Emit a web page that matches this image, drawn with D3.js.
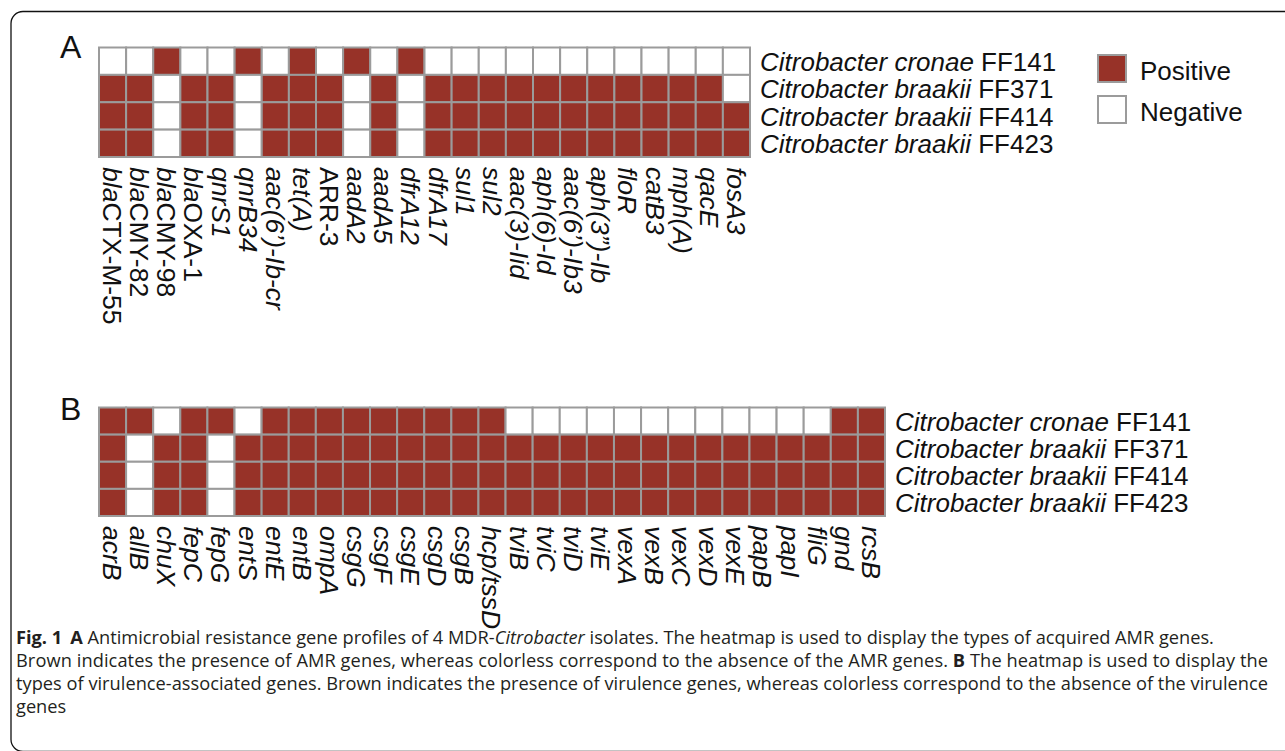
<!DOCTYPE html>
<html>
<head>
<meta charset="utf-8">
<script src="https://cdn.jsdelivr.net/npm/d3@7"></script>
<style>
  body { margin: 0; background: #fff; }
  svg { display: block; }
  .lab { font-family: "Liberation Sans", Arial, sans-serif; font-size: 26px; fill: #111; }
  .col { font-size: 26.5px; }
  .cap { font-family: "Open Sans", sans-serif; fill: #231f20; }
</style>
</head>
<body>
<svg></svg>
<script>
// isolates (rows)
var species = ["Citrobacter cronae", "Citrobacter braakii", "Citrobacter braakii", "Citrobacter braakii"];
var strains = ["FF141", "FF371", "FF414", "FF423"];

// panel A: acquired AMR genes
var amrGenes = ["blaCTX-M-55", "blaCMY-82", "blaCMY-98", "blaOXA-1", "qnrS1", "qnrB34", "aac(6\u2019)-Ib-cr", "tet(A)",
  "ARR-3", "aadA2", "aadA5", "dfrA12", "dfrA17", "sul1", "sul2", "aac(3)-Iid", "aph(6)-Id", "aac(6\u2019)-Ib3",
  "aph(3\u201D)-Ib", "floR", "catB3", "mph(A)", "qacE", "fosA3"];
var amrFF141 = [0,0,1,0,0,1,0,1,0,1,0,1,0,0,0,0,0,0,0,0,0,0,0,0];
var amrFF371 = [1,1,0,1,1,0,1,1,1,0,1,0,1,1,1,1,1,1,1,1,1,1,1,0];
var amrFF414 = [1,1,0,1,1,0,1,1,1,0,1,0,1,1,1,1,1,1,1,1,1,1,1,1];
var amrFF423 = [1,1,0,1,1,0,1,1,1,0,1,0,1,1,1,1,1,1,1,1,1,1,1,1];

// panel B: virulence-associated genes
var virGenes = ["acrB", "allB", "chuX", "fepC", "fepG", "entS", "entE", "entB", "ompA", "csgG", "csgF", "csgE",
  "csgD", "csgB", "hcp/tssD", "tviB", "tviC", "tviD", "tviE", "vexA", "vexB", "vexC", "vexD", "vexE",
  "papB", "papI", "fliG", "gnd", "rcsB"];
var virFF141 = [1,1,0,1,1,0,1,1,1,1,1,1,1,1,1,0,0,0,0,0,0,0,0,0,0,0,0,1,1];
var virFF371 = [1,0,1,1,0,1,1,1,1,1,1,1,1,1,1,1,1,1,1,1,1,1,1,1,1,1,1,1,1];
var virFF414 = [1,0,1,1,0,1,1,1,1,1,1,1,1,1,1,1,1,1,1,1,1,1,1,1,1,1,1,1,1];
var virFF423 = [1,0,1,1,0,1,1,1,1,1,1,1,1,1,1,1,1,1,1,1,1,1,1,1,1,1,1,1,1];

var legendItems = ["Positive", "Negative"];

var RED = "#973228", GRID = "#9b9b9b";

var svg = d3.select('svg').attr('width', 1285).attr('height', 751);

// rounded frame
svg.append('rect')
  .attr('x', 11).attr('y', 11.5).attr('width', 1300).attr('height', 740)
  .attr('rx', 12).attr('fill', 'none').attr('stroke', '#111').attr('stroke-width', 1.3);

function heatmap(genes, rows, x0, x1, y0, y1, letter, ly) {
  var x = d3.scaleBand().domain(genes).range([x0, x1]);
  var y = d3.scaleBand().domain(strains).range([y0, y1]);
  var cells = [];
  rows.forEach(function(r, i) {
    r.forEach(function(v, j) { cells.push({ gene: genes[j], strain: strains[i], v: v }); });
  });

  var g = svg.append('g');
  g.selectAll('rect').data(cells).enter().append('rect')
    .attr('x', function(d) { return x(d.gene); })
    .attr('y', function(d) { return y(d.strain); })
    .attr('width', x.bandwidth()).attr('height', y.bandwidth())
    .attr('fill', function(d) { return d.v ? RED : '#fff'; })
    .attr('stroke', GRID).attr('stroke-width', 2);

  // row labels
  var rl = g.selectAll('text.row').data(strains).enter().append('text')
    .attr('class', 'lab row')
    .attr('x', x1 + 10)
    .attr('y', function(d) { return y(d) + y.bandwidth() / 2; })
    .attr('dy', '0.37em');
  rl.append('tspan').style('font-style', 'italic').text(function(d, i) { return species[i] + ' '; });
  rl.append('tspan').text(function(d) { return d; });

  // column labels, reading downwards
  var cl = g.selectAll('text.col').data(genes).enter().append('text')
    .attr('class', 'lab col')
    .attr('transform', function(d) { return 'translate(' + (x(d) + x.bandwidth() / 2) + ',' + (y1 + 10) + ') rotate(90)'; })
    .attr('dy', '0.36em');
  cl.each(function(d) {
    var t = d3.select(this);
    if (d.indexOf('bla') === 0) {
      t.append('tspan').style('font-style', 'italic').text('bla');
      t.append('tspan').text(d.slice(3));
    } else if (d === 'ARR-3') {
      t.append('tspan').text(d);
    } else {
      t.append('tspan').style('font-style', 'italic').text(d);
    }
  });

  svg.append('text').attr('class', 'lab').style('font-size', '32px')
    .attr('x', 60).attr('y', ly).text(letter);
}

heatmap(amrGenes, [amrFF141, amrFF371, amrFF414, amrFF423], 99, 750, 47.5, 157, 'A', 57.5);
heatmap(virGenes, [virFF141, virFF371, virFF414, virFF423], 99, 885, 407.5, 516, 'B', 419.5);

// legend
var lg = svg.append('g').selectAll('g').data(legendItems).enter().append('g')
  .attr('transform', function(d, i) { return 'translate(1098,' + (55 + i * 41) + ')'; });
lg.append('rect').attr('width', 28).attr('height', 27)
  .attr('fill', function(d, i) { return i === 0 ? RED : '#fff'; })
  .attr('stroke', GRID).attr('stroke-width', 2);
lg.append('text').attr('class', 'lab').attr('x', 42).attr('y', 25).text(function(d) { return d; });

// caption
var capLines = [
  [["Fig. 1", "b"], ["A", "b", 8], [" Antimicrobial resistance gene profiles of 4 MDR-", ""], ["Citrobacter", "i"],
   [" isolates. The heatmap is used to display the types of acquired AMR genes.", ""]],
  [["Brown indicates the presence of AMR genes, whereas colorless correspond to the absence of the AMR genes. ", ""],
   ["B", "b"], [" The heatmap is used to display the", ""]],
  [["types of virulence-associated genes. Brown indicates the presence of virulence genes, whereas colorless correspond to the absence of the virulence", ""]],
  [["genes", ""]]
];

var cap = svg.append('g').selectAll('text').data(capLines).enter().append('text')
  .attr('class', 'cap')
  .attr('x', 16)
  .attr('y', function(d, i) { return 644 + i * 23; })
  .style('font-size', '18px');
cap.each(function(line) {
  var t = d3.select(this);
  line.forEach(function(s) {
    var sp = t.append('tspan').text(s[0]);
    if (s[1] === 'b') sp.style('font-weight', 'bold');
    if (s[1] === 'i') sp.style('font-style', 'italic');
    if (s[2]) sp.attr('dx', s[2]);
  });
});

// fit the caption size to the first line, then justify lines 2 and 3
var w0 = cap.nodes()[0].getComputedTextLength();
var fs = 18 * 1191 / w0;
cap.style('font-size', fs + 'px');
cap.filter(function(d, i) { return i === 1 || i === 2; })
  .attr('textLength', 1252).attr('lengthAdjust', 'spacing');
</script>
</body>
</html>
